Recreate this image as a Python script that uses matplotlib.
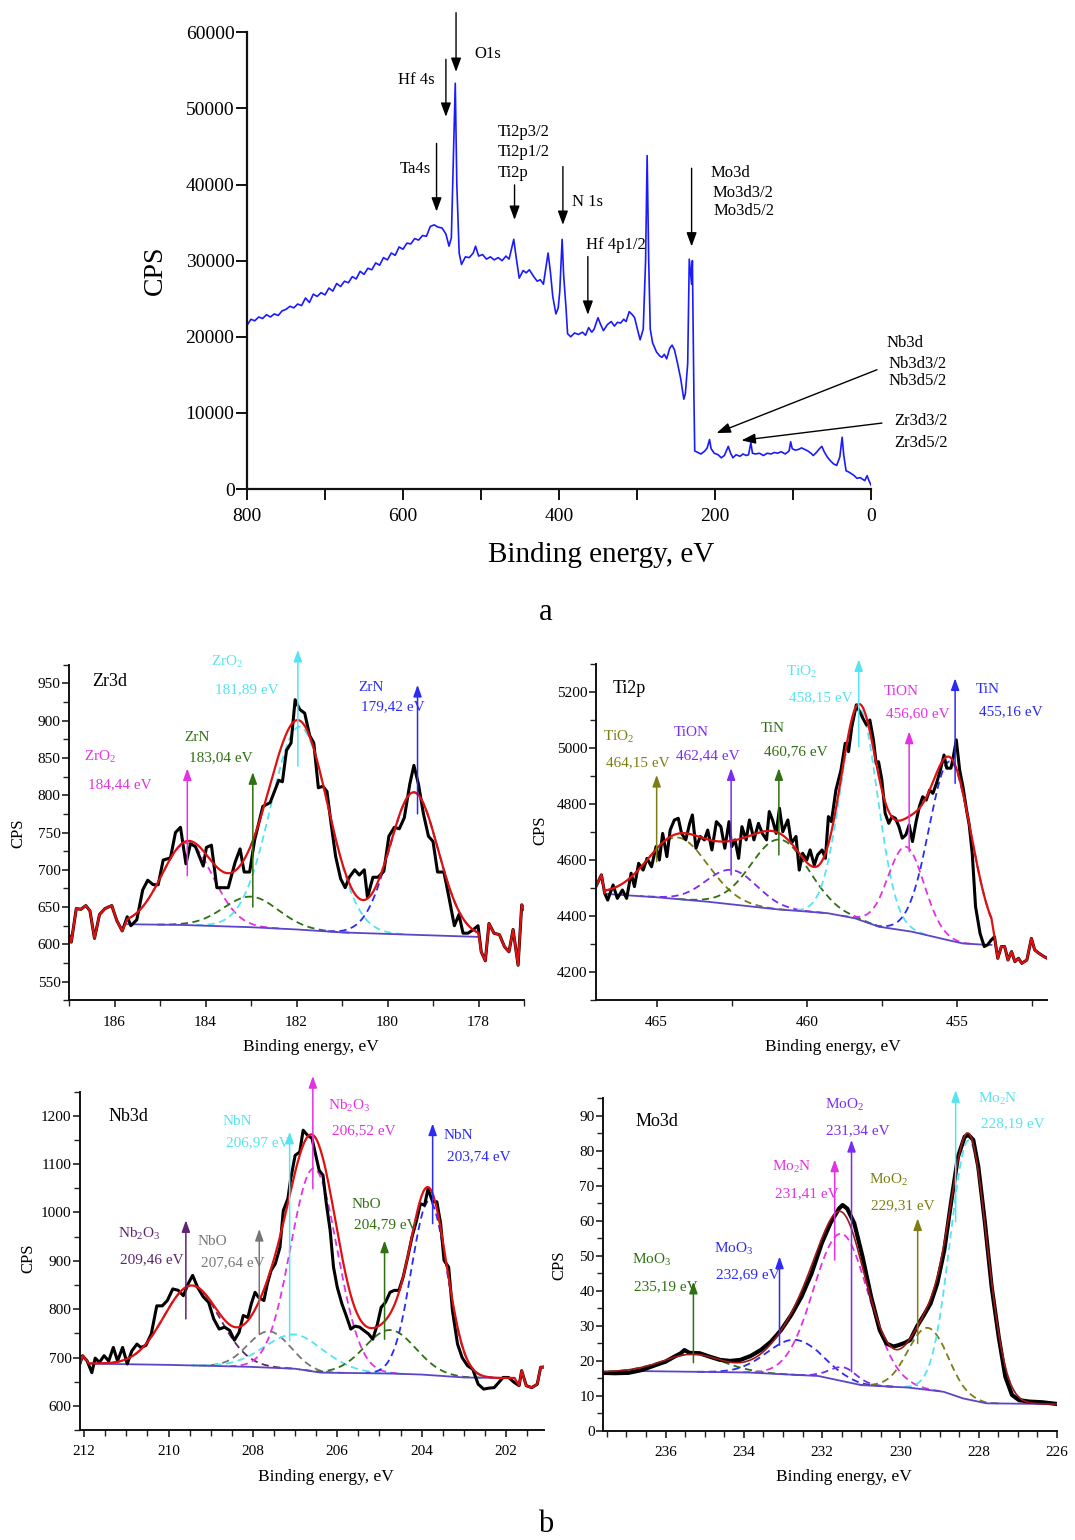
import numpy as np
import matplotlib
matplotlib.use('Agg')
import matplotlib.pyplot as plt
from matplotlib.ticker import MultipleLocator

plt.rcParams['font.family'] = ['Liberation Serif', 'DejaVu Serif']
plt.rcParams['mathtext.fontset'] = 'custom'
plt.rcParams['mathtext.rm'] = 'Liberation Serif'
plt.rcParams['mathtext.it'] = 'Liberation Serif:italic'

# ---------------- survey spectrum (panel a) ----------------
sv_x = [800, 795, 790, 785, 780, 775, 770, 765, 760, 755, 750, 745, 740, 735, 730, 725, 720, 715, 710, 705,
        700, 695, 690, 685, 680, 675, 670, 665, 660, 655, 650, 645, 640, 635, 630, 625, 620, 615, 610, 605,
        600, 595, 590, 585, 580, 575, 570, 565, 560, 555, 550, 545, 541, 538, 535, 533, 531, 528, 525, 520,
        515, 510, 507, 503, 498, 493, 488, 483, 478, 473, 468, 464, 461, 458, 455, 451, 446, 442, 438, 433,
        428, 424, 420, 417, 414, 411, 408, 404, 401, 399, 396, 394, 391, 389, 385, 380, 375, 370, 366, 362,
        358, 355, 350, 347, 343, 338, 333, 329, 325, 321, 317, 314, 310, 306, 303, 299, 296, 292, 289, 287,
        285, 283, 280, 275, 271, 268, 265, 262, 258, 255, 252, 248, 244, 240, 238, 235, 233, 231, 230, 229,
        227, 226, 222, 218, 213, 210, 207, 205, 201, 196, 192, 188, 183, 180, 177, 173, 168, 164, 160, 157,
        154, 152, 148, 143, 138, 133, 128, 124, 120, 115, 110, 105, 103, 101, 97, 93, 89, 85, 81, 77,
        74, 70, 66, 63, 60, 56, 52, 48, 44, 40, 37, 35, 32, 28, 25, 22, 18, 14, 11, 8,
        5, 3, 0]
sv_y = [21500, 22300, 22100, 22600, 22400, 22900, 22600, 23000, 22800, 23400, 23600, 24000, 23800, 24300, 24100, 25100, 24500, 25600, 25300, 25800,
        25500, 26400, 26000, 27000, 26600, 27300, 27100, 27900, 27600, 28600, 28200, 29000, 28800, 29700, 29400, 30400, 30100, 31000, 30700, 31800,
        31500, 32300, 32200, 32900, 32700, 33300, 33200, 34500, 34700, 34400, 34300, 33500, 31900, 33000, 45000, 53300, 40000, 31000, 29500, 30500,
        30400, 31000, 31900, 30600, 30800, 30200, 30500, 30100, 30400, 30000, 30600, 30200, 31500, 32800, 30500, 27700, 28700, 28400, 28800, 28000,
        27300, 27500, 26900, 29000, 31000, 28500, 25300, 23000, 23800, 26000, 32800, 28000, 23800, 20400, 20000, 20500, 20300, 20600, 20200, 21200,
        20600, 21000, 22500, 21700, 20800, 21600, 22000, 21400, 21900, 21800, 22300, 22000, 23300, 22900, 22500, 20800, 19600, 21000, 30000, 43800,
        30000, 21000, 19200, 18000, 17500, 17300, 17700, 17100, 18500, 18900, 18300, 16500, 14500, 11800, 12500, 16500, 30200, 28000, 26900, 30000,
        12000, 5000, 4800, 4600, 5000, 5400, 6500, 5300, 4700, 4500, 4100, 4400, 5600, 4700, 4100, 4500, 4300, 4600, 4400, 4500,
        6100, 4700, 4600, 4700, 4400, 4700, 4600, 4800, 4700, 4900, 4600, 5000, 6200, 5300, 5100, 5200, 5400, 5200, 5000, 4700,
        4400, 4800, 5300, 5600, 4900, 4200, 3700, 3300, 3100, 4200, 6800, 4500, 2400, 2200, 2000, 1800, 1400, 1500, 1300, 1100,
        1750, 1200, 500]

sv_labels = [("O1s", 509, 57150), ("Hf 4s", 606, 53740), ("Ta4s", 604, 42010),
             ("Ti2p3/2", 478, 46870), ("Ti2p1/2", 478, 44240), ("Ti2p", 478, 41570),
             ("N 1s", 383, 37760), ("Hf 4p1/2", 365, 32080),
             ("Mo3d", 206, 41480), ("Mo3d3/2", 203, 38860), ("Mo3d5/2", 202, 36540),
             ("Nb3d", -20.5, 19170), ("Nb3d3/2", -23, 16410), ("Nb3d5/2", -23, 14180),
             ("Zr3d3/2", -29.5, 8930), ("Zr3d5/2", -29.5, 6040)]
sv_arrows = [(532, 62580, 532, 54800), (545, 56450, 545, 48900), (557, 45400, 557, 36450),
             (457, 39950, 457, 35360), (395, 42360, 395, 34700), (363, 30540, 363, 22890),
             (230, 42140, 230, 31860), (-7.7, 15670, 198, 7350), (-14, 8660, 166, 6390)]

# ---------------- colours ----------------
MAG = '#e232e2'; GRN = '#2f7012'; CYN = '#55e4f0'; BLU = '#2b2bf2'
OLV = '#7d7d14'; VIO = '#7a2cf2'; PUR = '#5e2470'; GRY = '#777777'
BGC = '#5b45c8'

# ---------------- Zr3d ----------------
zr_x = [187.0, 186.95, 186.84, 186.74, 186.63, 186.54, 186.44, 186.33, 186.21, 186.06,
        185.95, 185.83, 185.72, 185.64, 185.51, 185.38, 185.27, 185.15, 185.04, 184.93,
        184.77, 184.66, 184.55, 184.43, 184.33, 184.22, 184.05, 183.98, 183.87, 183.75,
        183.65, 183.5, 183.35, 183.24, 183.15, 183.03, 182.92, 182.74, 182.58, 182.39,
        182.31, 182.22, 182.12, 182.03, 181.93, 181.82, 181.71, 181.62, 181.52, 181.42,
        181.33, 181.24, 181.14, 181.03, 180.93, 180.84, 180.72, 180.62, 180.51, 180.44,
        180.32, 180.21, 180.08, 179.97, 179.85, 179.74, 179.63, 179.51, 179.42, 179.32,
        179.21, 179.1, 179.0, 178.9, 178.76, 178.64, 178.53, 178.43, 178.34, 178.23,
        178.11, 178.01, 177.94, 177.85, 177.77, 177.66, 177.54, 177.43, 177.33, 177.24,
        177.13, 177.05, 176.97]
zr_y = [612, 603, 648, 647, 652, 645, 608, 640, 648, 652,
        632, 618, 637, 625, 633, 673, 686, 680, 680, 713,
        716, 750, 757, 708, 735, 731, 705, 730, 733, 676,
        676, 676, 710, 728, 697, 697, 740, 785, 790, 820,
        818, 860, 870, 928, 915, 910, 880, 870, 810, 812,
        805, 762, 718, 688, 676, 690, 700, 693, 700, 663,
        690, 690, 698, 745, 757, 755, 770, 815, 840, 815,
        775, 745, 738, 697, 697, 660, 625, 640, 615, 615,
        620, 625, 590, 578, 628, 615, 613, 597, 590, 620,
        572, 653, 645]
zr_bg_x = [185.72, 184.5, 183.0, 182.0, 181.0, 180.0, 179.0, 178.0]
zr_bg_y = [627, 626, 623, 620, 616, 614, 612, 610]
zr_comp = [(184.40, 110, 0.56, MAG), (183.0, 41, 0.60, GRN), (181.93, 272, 0.63, CYN), (179.42, 191, 0.53, BLU)]
zr_arrows = [(184.40, 692, 836, MAG), (182.96, 650, 831, GRN), (181.97, 839, 995, CYN), (179.34, 775, 948, BLU)]
zr_labels = [("ZrO$_\\mathregular{2}$", 186.67, 851, MAG), ("184,44 eV", 186.58, 814, MAG),
             ("ZrN", 184.46, 877, GRN), ("183,04 eV", 184.37, 850, GRN),
             ("ZrO$_\\mathregular{2}$", 183.87, 979, CYN), ("181,89 eV", 183.79, 942, CYN),
             ("ZrN", 180.65, 945, BLU), ("179,42 eV", 180.59, 919, BLU)]

# ---------------- Ti2p ----------------
ti_x = [467.05, 466.84, 466.73, 466.63, 466.45, 466.31, 466.14, 466.0, 465.85, 465.74,
        465.6, 465.45, 465.32, 465.17, 465.02, 464.91, 464.8, 464.66, 464.55, 464.41,
        464.28, 464.17, 464.03, 463.9, 463.81, 463.69, 463.55, 463.41, 463.3, 463.16,
        463.01, 462.86, 462.73, 462.59, 462.5, 462.39, 462.27, 462.16, 462.02, 461.91,
        461.76, 461.61, 461.48, 461.34, 461.25, 461.14, 461.02, 460.91, 460.8, 460.63,
        460.51, 460.36, 460.25, 460.14, 460.0, 459.89, 459.75, 459.64, 459.49, 459.38,
        459.28, 459.18, 459.03, 458.86, 458.72, 458.61, 458.5, 458.35, 458.24, 458.13,
        458.01, 457.9, 457.78, 457.69, 457.61, 457.5, 457.39, 457.27, 457.16, 457.05,
        456.93, 456.82, 456.7, 456.59, 456.48, 456.36, 456.25, 456.14, 456.02, 455.91,
        455.8, 455.68, 455.55, 455.43, 455.34, 455.2, 455.14, 455.02, 454.91, 454.8,
        454.68, 454.59, 454.49, 454.38, 454.23, 454.09, 453.98, 453.86, 453.75, 453.64,
        453.52, 453.41, 453.3, 453.18, 453.07, 452.95, 452.84, 452.67, 452.52, 452.41,
        452.27, 452.1, 451.99]
ti_y = [4500, 4548, 4482, 4458, 4512, 4464, 4494, 4464, 4554, 4506,
        4589, 4565, 4607, 4577, 4649, 4601, 4696, 4613, 4708, 4744,
        4750, 4696, 4673, 4732, 4762, 4643, 4685, 4673, 4708, 4637,
        4738, 4720, 4643, 4738, 4649, 4673, 4607, 4720, 4673, 4744,
        4673, 4732, 4696, 4673, 4774, 4744, 4696, 4786, 4702, 4744,
        4661, 4685, 4565, 4625, 4601, 4637, 4583, 4619, 4637, 4607,
        4756, 4738, 4851, 4923, 5018, 4988, 5077, 5155, 5131, 5107,
        5083, 5101, 5030, 4946, 4952, 4887, 4768, 4732, 4756, 4750,
        4720, 4679, 4691, 4726, 4667, 4738, 4792, 4827, 4815, 4851,
        4839, 4875, 4923, 4976, 4929, 4929, 4958, 5030, 4923, 4863,
        4780, 4726, 4625, 4435, 4339, 4292, 4298, 4315, 4327, 4250,
        4292, 4292, 4244, 4274, 4238, 4250, 4232, 4244, 4321, 4280,
        4268, 4256, 4250]
ti_bg_x = [466.7, 465.0, 463.3, 461.0, 460.0, 459.3, 458.4, 457.6, 456.5, 455.3, 454.8, 454.0, 453.85]
ti_bg_y = [4480, 4468, 4452, 4425, 4417, 4411, 4393, 4363, 4345, 4315, 4303, 4298, 4298]
ti_comp = [(464.3, 220, 1.0, OLV), (462.5, 123, 0.85, VIO), (460.9, 250, 0.95, GRN),
           (458.25, 755, 0.62, CYN), (456.7, 300, 0.6, MAG), (455.22, 640, 0.7, BLU)]
ti_arrows = [(465.0, 4595, 4905, OLV), (462.52, 4548, 4929, VIO), (460.93, 4619, 4929, GRN),
             (458.27, 5006, 5318, CYN), (456.59, 4631, 5060, MAG), (455.06, 4875, 5250, BLU)]
ti_labels = [("TiO$_\\mathregular{2}$", 466.78, 5042, OLV), ("464,15 eV", 466.7, 4950, OLV),
             ("TiON", 464.43, 5056, VIO), ("462,44 eV", 464.37, 4974, VIO),
             ("TiN", 461.53, 5071, GRN), ("460,76 eV", 461.44, 4988, GRN),
             ("TiO$_\\mathregular{2}$", 460.7, 5274, CYN), ("458,15 eV", 460.59, 5182, CYN),
             ("TiON", 457.44, 5202, MAG), ("456,60 eV", 457.36, 5123, MAG),
             ("TiN", 454.38, 5211, BLU), ("455,16 eV", 454.26, 5131, BLU)]

# ---------------- Nb3d ----------------
nb_x = [212.13, 212.04, 211.93, 211.82, 211.74, 211.64, 211.53, 211.42, 211.31, 211.21,
        211.09, 210.98, 210.87, 210.75, 210.66, 210.54, 210.41, 210.28, 210.15, 210.03,
        209.9, 209.77, 209.65, 209.54, 209.43, 209.31, 209.18, 209.05, 208.93, 208.8,
        208.67, 208.55, 208.44, 208.33, 208.23, 208.12, 208.04, 207.95, 207.87, 207.74,
        207.66, 207.57, 207.47, 207.36, 207.28, 207.17, 207.11, 207.0, 206.89, 206.81,
        206.71, 206.6, 206.51, 206.43, 206.34, 206.26, 206.17, 206.09, 206.0, 205.89,
        205.79, 205.68, 205.58, 205.47, 205.37, 205.26, 205.16, 205.05, 204.96, 204.86,
        204.75, 204.65, 204.54, 204.44, 204.33, 204.23, 204.12, 204.03, 203.93, 203.85,
        203.74, 203.64, 203.55, 203.47, 203.36, 203.27, 203.15, 203.04, 202.91, 202.79,
        202.66, 202.53, 202.4, 202.28, 202.17, 202.07, 201.94, 201.81, 201.69, 201.63,
        201.52, 201.39, 201.26, 201.18, 201.05]
nb_y = [680, 704, 693, 669, 699, 690, 704, 693, 721, 693,
        721, 687, 714, 728, 721, 725, 749, 807, 807, 818,
        842, 839, 828, 852, 870, 845, 826, 814, 780, 759,
        763, 756, 736, 752, 787, 783, 811, 835, 825, 818,
        852, 880, 894, 928, 1004, 1029, 1067, 1118, 1125, 1170,
        1160, 1153, 1118, 1087, 1077, 1018, 963, 887, 845, 811,
        787, 759, 765, 763, 756, 749, 738, 769, 804, 814,
        835, 839, 839, 866, 908, 949, 984, 1018, 1015, 1049,
        1022, 1022, 977, 901, 887, 797, 728, 700, 683, 676,
        645, 635, 637, 638, 649, 659, 659, 649, 642, 673,
        642, 638, 645, 680, 681]
nb_bg_x = [211.9, 211.47, 210.0, 208.08, 207.0, 206.39, 205.5, 204.69, 204.0, 203.0, 202.15, 201.8]
nb_bg_y = [688, 687, 685, 681, 677, 669, 668, 667, 665, 659, 658, 658]
nb_comp = [(209.45, 165, 0.66, PUR), (207.62, 75, 0.5, GRY), (207.0, 71, 0.72, CYN),
           (206.55, 420, 0.55, MAG), (204.75, 90, 0.6, GRN), (203.82, 360, 0.42, BLU)]
nb_arrows = [(209.59, 780, 984, PUR), (207.85, 749, 966, GRY), (207.13, 735, 1167, CYN),
             (206.58, 1049, 1282, MAG), (204.88, 738, 942, GRN), (203.74, 977, 1184, BLU)]
nb_labels = [("Nb$_\\mathregular{2}$O$_\\mathregular{3}$", 211.21, 956, PUR), ("209,46 eV", 211.14, 903, PUR),
             ("NbO", 209.31, 940, GRY), ("207,64 eV", 209.24, 896, GRY),
             ("NbN", 208.71, 1188, CYN), ("206,97 eV", 208.63, 1144, CYN),
             ("Nb$_\\mathregular{2}$O$_\\mathregular{3}$", 206.22, 1220, MAG), ("206,52 eV", 206.13, 1168, MAG),
             ("NbO", 205.67, 1017, GRN), ("204,79 eV", 205.61, 975, GRN),
             ("NbN", 203.47, 1159, BLU), ("203,74 eV", 203.41, 1115, BLU)]

# ---------------- Mo3d ----------------
mo_x = [237.65, 237.3, 236.95, 236.61, 236.26, 236.0, 235.78, 235.61, 235.52, 235.39,
        235.13, 234.87, 234.61, 234.35, 234.09, 233.83, 233.57, 233.31, 233.05, 232.79,
        232.53, 232.27, 232.01, 231.79, 231.57, 231.48, 231.36, 231.18, 230.97, 230.75,
        230.53, 230.36, 230.18, 230.05, 229.88, 229.75, 229.58, 229.4, 229.23, 229.06,
        228.88, 228.71, 228.53, 228.36, 228.26, 228.14, 228.01, 227.84, 227.67, 227.49,
        227.32, 227.15, 226.97, 226.71, 226.37, 225.99]
mo_y = [16.6, 16.5, 16.6, 17.4, 18.8, 19.8, 21.2, 22.2, 23.1, 22.3,
        22.2, 21.2, 20.3, 20.0, 20.3, 21.4, 23.1, 25.5, 28.8, 33.1,
        38.3, 45.0, 53.6, 59.3, 63.5, 64.5, 63.5, 59.3, 49.8, 38.3,
        28.8, 25.0, 24.1, 24.5, 25.2, 26.0, 29.8, 33.1, 36.4, 42.1,
        51.6, 65.0, 78.3, 84.0, 84.5, 83.1, 75.4, 59.3, 41.2, 26.9,
        15.5, 10.3, 8.8, 8.4, 8.2, 7.7]
mo_bg_x = [237.6, 236.6, 233.9, 232.1, 231.0, 229.8, 228.9, 228.4, 227.8, 226.2, 226.0]
mo_bg_y = [16.9, 17.1, 16.7, 15.7, 13.1, 12.4, 11.2, 9.3, 7.9, 7.7, 7.7]
mo_comp = [(235.3, 5, 0.75, GRN), (232.7, 10, 0.7, BLU), (231.5, 42, 0.7, MAG),
           (231.45, 4, 0.35, VIO), (229.3, 17.7, 0.5, OLV), (228.25, 74, 0.47, CYN)]
mo_arrows = [(235.29, 19.5, 42.6, GRN), (233.09, 24.5, 49.8, BLU), (231.68, 48.8, 77.5, MAG),
             (231.25, 16.9, 83.1, VIO), (229.56, 25, 60.7, OLV), (228.59, 59.7, 97.3, CYN)]
mo_labels = [("MoO$_\\mathregular{3}$", 236.85, 48.8, GRN), ("235,19 eV", 236.8, 41.2, GRN),
             ("MoO$_\\mathregular{3}$", 234.77, 51.9, BLU), ("232,69 eV", 234.72, 44.5, BLU),
             ("Mo$_\\mathregular{2}$N", 233.27, 75.3, MAG), ("231,41 eV", 233.2, 67.8, MAG),
             ("MoO$_\\mathregular{2}$", 231.94, 93.0, VIO), ("231,34 eV", 231.89, 85.7, VIO),
             ("MoO$_\\mathregular{2}$", 230.81, 71.6, OLV), ("229,31 eV", 230.75, 64.3, OLV),
             ("Mo$_\\mathregular{2}$N", 228.01, 94.7, CYN), ("228,19 eV", 227.94, 87.6, CYN)]

# ---------------- figure ----------------
W, H = 1075, 1540
fig = plt.figure(figsize=(W / 100, H / 100), dpi=100)


def rect(l, r, t, b):
    return [l / W, 1 - b / H, (r - l) / W, (b - t) / H]


def style(ax, lw):
    ax.spines['top'].set_visible(False)
    ax.spines['right'].set_visible(False)
    for s in ('left', 'bottom'):
        ax.spines[s].set_linewidth(lw)
        ax.spines[s].set_color('#111111')


# panel a
ax = fig.add_axes(rect(247, 871, 32.3, 489))
style(ax, 1.6)
ax.plot(sv_x, sv_y, color='#1a1aff', lw=1.2)
ax.set_xlim(800, 0)
ax.set_ylim(0, 60000)
ax.xaxis.set_major_locator(MultipleLocator(200))
ax.xaxis.set_minor_locator(MultipleLocator(100))
ax.yaxis.set_major_locator(MultipleLocator(10000))
ax.tick_params(axis='both', which='both', direction='out', length=8, width=1.4, labelsize=14, color='#111111')
ax.tick_params(axis='y', pad=1)
ax.tick_params(axis='x', pad=6)
for t, x, y in sv_labels:
    ax.text(x, y, t, fontsize=12, ha='left', va='center', clip_on=False)
for x0, y0, x1, y1 in sv_arrows:
    ax.annotate('', xy=(x1, y1), xytext=(x0, y0), annotation_clip=False,
                arrowprops=dict(arrowstyle='-|>,head_length=0.6,head_width=0.22', color='k', lw=1.0,
                                mutation_scale=14, shrinkA=0, shrinkB=0))
fig.text(155 / W, 1 - 270 / H, 'CPS', rotation=90, fontsize=20, ha='center', va='center')
fig.text(601 / W, 1 - 555 / H, 'Binding energy, eV', fontsize=21, ha='center', va='center')
fig.text(546 / W, 1 - 612 / H, 'a', fontsize=22, ha='center', va='center')
fig.text(546 / W, 1 - 1525 / H, 'b', fontsize=22, ha='center', va='center')


def gauss(x, c, h, s):
    return h * np.exp(-(x - c) ** 2 / (2 * s * s))


def panel(r, xlim, ylim, xmaj, xmin, ymaj, ymin, dx, dy, bgx, bgy, comps, arrows, labels,
          title, txy, ylab_xy, xlab_xy, red='#e01010', blk_lw=2.2, red_lw=1.6):
    ax = fig.add_axes(rect(*r))
    style(ax, 1.4)
    dx = np.asarray(dx, float); dy = np.asarray(dy, float)
    bx = np.asarray(bgx, float)[::-1]; by = np.asarray(bgy, float)[::-1]
    lo, hi = bx[0], bx[-1]
    # components
    for c, h, s, col in comps:
        xa = np.linspace(max(lo, c - 3.6 * s), min(hi, c + 3.6 * s), 300)
        ax.plot(xa, np.interp(xa, bx, by) + gauss(xa, c, h, s), color=col, lw=1.3,
                dashes=(4, 2.5))
    # background
    ax.plot(bgx, bgy, color=BGC, lw=1.3)
    # data
    ax.plot(dx, dy, color='k', lw=blk_lw, solid_joinstyle='round')
    # fit: data outside fit window, model inside
    xf = np.linspace(hi, lo, 500)
    yf = np.interp(xf, bx, by) + sum(gauss(xf, c, h, s) for c, h, s, _ in comps)
    left = dx > hi; right = dx < lo
    rx = np.concatenate([dx[left], xf, dx[right]])
    ry = np.concatenate([dy[left], yf, dy[right]])
    ax.plot(rx, ry, color=red, lw=red_lw)
    ax.set_xlim(*xlim)
    ax.set_ylim(*ylim)
    ax.xaxis.set_major_locator(MultipleLocator(xmaj))
    ax.xaxis.set_minor_locator(MultipleLocator(xmin))
    ax.yaxis.set_major_locator(MultipleLocator(ymaj))
    ax.yaxis.set_minor_locator(MultipleLocator(ymin))
    ax.tick_params(axis='both', which='major', direction='out', length=5, width=1.2, labelsize=11, color='#222222')
    ax.tick_params(axis='both', which='minor', direction='out', length=4, width=1.0, color='#222222')
    ax.tick_params(axis='y', pad=1)
    ax.tick_params(axis='x', pad=6)
    for x, y0, y1, col in arrows:
        ax.annotate('', xy=(x, y1), xytext=(x, y0), annotation_clip=False,
                    arrowprops=dict(arrowstyle='-|>,head_length=0.7,head_width=0.25', color=col, lw=1.1,
                                    mutation_scale=10, shrinkA=0, shrinkB=0))
    for t, x, y, col in labels:
        ax.text(x, y, t, color=col, fontsize=11, ha='left', va='center', clip_on=False)
    ax.text(txy[0], txy[1], title, fontsize=13, ha='left', va='center')
    fig.text(ylab_xy[0] / W, 1 - ylab_xy[1] / H, 'CPS', rotation=90, fontsize=12, ha='center', va='center')
    fig.text(xlab_xy[0] / W, 1 - xlab_xy[1] / H, 'Binding energy, eV', fontsize=12.5, ha='center', va='center')
    return ax


panel((69, 524, 664.7, 1000.3), (187, 177), (525, 975), 2, 1, 50, 25, zr_x, zr_y, zr_bg_x, zr_bg_y,
      zr_comp, zr_arrows, zr_labels, 'Zr3d', (186.5, 952), (18, 833), (311, 1047))
panel((595.7, 1047, 664.3, 1000.3), (467.03, 452.0), (4100, 5300), 5, 2.5, 200, 100, ti_x, ti_y, ti_bg_x, ti_bg_y,
      ti_comp, ti_arrows, ti_labels, 'Ti2p', (466.48, 5214), (540, 830), (833, 1047))
panel((80, 544, 1091.5, 1430.2), (212.1, 201.1), (550, 1250), 2, 0.5, 100, 50, nb_x, nb_y, nb_bg_x, nb_bg_y,
      nb_comp, nb_arrows, nb_labels, 'Nb3d', (211.42, 1198), (28, 1258), (326, 1477))
panel((603, 1057, 1098.2, 1431), (237.6, 226), (0, 95), 2, 0.5, 10, 5, mo_x, mo_y, mo_bg_x, mo_bg_y,
      mo_comp, mo_arrows, mo_labels, 'Mo3d', (236.76, 88.3), (559, 1265), (844, 1477),
      red='#a01818', blk_lw=3.0, red_lw=1.2)

fig.savefig('out.png', dpi=100)
